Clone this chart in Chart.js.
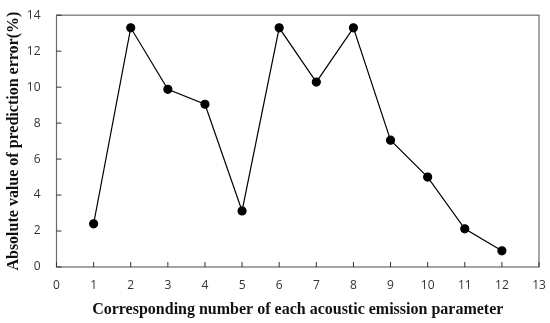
<!DOCTYPE html>
<html>
<head>
<meta charset="utf-8">
<script src="https://cdn.jsdelivr.net/npm/chart.js@4.4.0/dist/chart.umd.min.js"></script>
<style>
  html, body { margin: 0; padding: 0; background: #fff; }
  #wrap { width: 550px; height: 323px; }
</style>
</head>
<body>
<div id="wrap"><canvas id="myChart" width="550" height="323"></canvas></div>
<script>
// parameter number and prediction error (%)
const paramNo = [1, 2, 3, 4, 5, 6, 7, 8, 9, 10, 11, 12];
const errorPct = [2.4, 13.3, 9.88, 9.05, 3.12, 13.3, 10.28, 13.3, 7.05, 5.0, 2.12, 0.9];
const xTicks = [0, 1, 2, 3, 4, 5, 6, 7, 8, 9, 10, 11, 12, 13];
const yTicks = [0, 2, 4, 6, 8, 10, 12, 14];

const points = paramNo.map((x, i) => ({x: x, y: errorPct[i]}));

// box round the plot and inward tick marks
const frame = {
  id: 'frame',
  afterDraw(chart) {
    const c = chart.ctx, a = chart.chartArea;
    c.save();
    c.strokeStyle = '#6b6b6b';
    c.lineWidth = 1.2;
    c.strokeRect(a.left, a.top, a.right - a.left, a.bottom - a.top);
    c.strokeStyle = '#333';
    c.lineWidth = 1;
    c.beginPath();
    xTicks.forEach(v => {
      const px = chart.scales.x.getPixelForValue(v);
      c.moveTo(px, a.bottom);
      c.lineTo(px, a.bottom - 5);
    });
    yTicks.forEach(v => {
      const py = chart.scales.y.getPixelForValue(v);
      c.moveTo(a.left, py);
      c.lineTo(a.left + 5, py);
    });
    c.stroke();
    c.restore();
  }
};

new Chart(document.getElementById('myChart'), {
  type: 'line',
  data: {
    datasets: [{
      data: points,
      borderColor: '#000',
      borderWidth: 1.2,
      backgroundColor: '#000',
      pointRadius: 4,
      pointHoverRadius: 4,
      tension: 0
    }]
  },
  options: {
    responsive: false,
    animation: false,
    layout: { padding: { top: 13, right: 11, left: 0, bottom: 0 } },
    plugins: { legend: { display: false }, tooltip: { enabled: false } },
    scales: {
      x: {
        type: 'linear',
        min: 0, max: 13,
        afterBuildTicks: s => { s.ticks = xTicks.map(v => ({value: v})); },
        afterFit: s => { s.height = 56; },
        grid: { display: false },
        border: { display: false },
        ticks: { color: '#333', padding: 3, font: { family: 'Open Sans', size: 12 } },
        title: {
          display: true,
          text: 'Corresponding number of each acoustic emission parameter',
          color: '#111',
          padding: { top: 2 },
          font: { family: 'Liberation Serif', size: 16, weight: 'bold' }
        }
      },
      y: {
        min: 0, max: 14,
        afterBuildTicks: s => { s.ticks = yTicks.map(v => ({value: v})); },
        afterFit: s => { s.width = 56.5; },
        grid: { display: false },
        border: { display: false },
        ticks: { color: '#333', padding: 8, font: { family: 'Open Sans', size: 12 } },
        title: {
          display: true,
          text: 'Absolute value of prediction error(%)',
          color: '#111',
          padding: { bottom: 4 },
          font: { family: 'Liberation Serif', size: 16, weight: 'bold' }
        }
      }
    }
  },
  plugins: [frame]
});
</script>
</body>
</html>
